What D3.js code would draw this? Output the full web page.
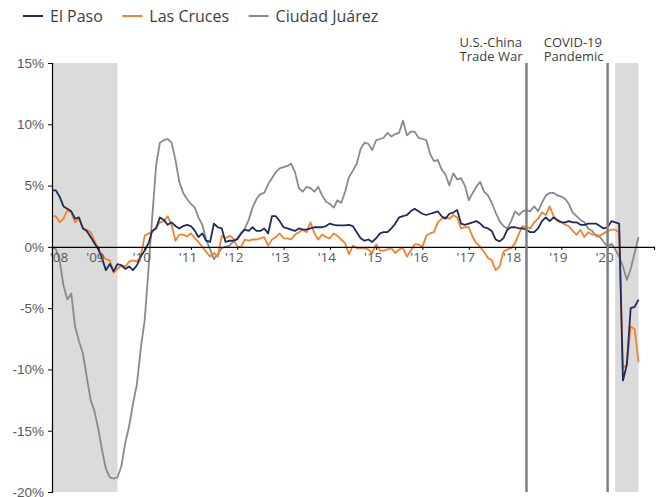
<!DOCTYPE html>
<html>
<head>
<meta charset="utf-8">
<script src="https://cdn.jsdelivr.net/npm/d3@7"></script>
<style>
    body { margin: 0; background: #fff; }
    svg { font-family: 'Open Sans', sans-serif; display: block; }
</style>
</head>
<body>
<div id="chart"></div>
<script>
// Monthly y/y change in %, Jan 2008 - Sep 2020 (one row per year)
const elPaso = [
    4.6, 4.6, 4.1, 3.3, 3.1, 2.9, 2.3, 2.4, 1.5, 1.3, 0.8, 0.3,
    -0.2, -1.0, -1.9, -1.4, -2.0, -1.4, -1.5, -1.8, -1.6, -1.9, -1.5, -0.8,
    -0.3, 0.3, 1.3, 1.5, 2.4, 2.2, 1.8, 2.0, 1.7, 1.5, 1.7, 1.8,
    1.7, 1.3, 0.8, 1.1, 0.5, 0.4, 1.9, 1.6, 1.5, 0.4, 0.5, 0.5,
    0.6, 1.1, 1.4, 1.3, 1.6, 1.3, 1.3, 1.5, 1.1, 2.5, 2.5, 2.1,
    1.6, 1.5, 1.4, 1.3, 1.5, 1.4, 1.4, 1.5, 1.6, 1.6, 1.6, 1.7,
    1.9, 1.8, 1.75, 1.75, 1.75, 1.8, 1.7, 1.2, 0.7, 0.5, 0.6, 0.4,
    0.7, 1.1, 1.2, 1.2, 1.5, 1.9, 2.4, 2.5, 2.6, 2.9, 3.1, 2.9,
    2.7, 2.6, 2.7, 2.8, 2.9, 2.5, 2.3, 2.7, 2.8, 3.0, 1.9, 1.8,
    1.9, 2.0, 2.1, 1.9, 1.6, 1.5, 1.3, 0.6, 0.45, 0.7, 1.4, 1.6,
    1.6, 1.5, 1.5, 1.4, 1.2, 1.2, 1.5, 2.1, 2.4, 2.1, 2.4, 2.2,
    2.0, 2.0, 2.1, 2.0, 2.0, 1.8, 1.8, 1.9, 1.9, 1.9, 1.7, 1.5,
    1.6, 2.1, 2.0, 1.9, -10.9, -9.6, -5.0, -4.9, -4.3
]
const lasCruces = [
    2.5, 2.5, 2.0, 2.3, 3.0, 2.8, 2.0, 2.3, 1.5, 1.4, 1.2, 0.5,
    -0.2, -0.7, -1.0, -1.1, -2.1, -1.8, -1.5, -1.6, -1.2, -1.1, -1.2, -0.8,
    0.9, 1.1, 1.2, 1.6, 2.0, 2.1, 2.5, 1.8, 0.5, 1.0, 1.0, 0.85,
    1.1, 0.7, 0.4, 0.0, -0.4, -0.8, -0.5, -0.8, 0.9, 0.7, 0.9, 0.7,
    0.0, 0.0, 0.6, 0.5, 0.6, 0.6, 0.7, 0.8, 0.1, 0.6, 0.8, 1.1,
    0.7, 0.7, 0.6, 1.0, 1.2, 1.4, 1.2, 2.0, 1.1, 0.6, 1.0, 0.8,
    0.7, 1.1, 0.9, 0.6, 0.3, -0.6, 0.1, -0.1, -0.1, -0.1, -0.2, -0.5,
    0.2, -0.3, -0.3, -0.2, -0.1, -0.5, -0.2, -0.1, -0.8, -0.3, 0.2, 0.2,
    0.0, 0.9, 1.1, 1.2, 2.0, 2.3, 2.4, 2.3, 2.6, 2.4, 1.5, 1.6,
    1.6, 0.8, 0.3, 0.0, -0.4, -0.9, -1.1, -1.9, -1.6, -0.4, -0.2, -0.1,
    0.3, 1.1, 1.7, 1.6, 1.5, 2.0, 2.3, 2.8, 2.6, 3.3, 2.5, 2.1,
    2.0, 1.8, 1.7, 1.3, 1.0, 1.4, 0.8, 1.2, 1.0, 1.0, 0.9, 1.1,
    1.3, 1.4, 1.4, 1.2, -9.9, -9.6, -6.5, -6.7, -9.4
]
const ciudadJuarez = [
    0.0, -0.2, -1.1, -3.2, -4.3, -3.8, -6.5, -7.7, -8.7, -10.6, -12.5, -13.4,
    -14.9, -16.7, -18.1, -18.8, -18.9, -18.8, -17.9, -16.0, -14.6, -12.8, -11.2, -8.3,
    -6.0, -1.7, 2.3, 6.6, 8.5, 8.7, 8.8, 8.5, 7.1, 5.3, 4.4, 3.9,
    3.5, 3.2, 2.4, 1.8, 0.6, -0.2, -1.0, -0.6, -0.1, 0.0, 0.1, 0.4,
    0.7, 1.1, 1.5, 2.2, 3.2, 3.9, 4.3, 4.4, 5.1, 5.6, 6.1, 6.4,
    6.5, 6.6, 6.8, 6.1, 4.8, 4.5, 4.9, 4.8, 4.5, 4.9, 4.2, 3.7,
    3.5, 3.2, 3.8, 3.6, 4.5, 5.7, 6.2, 6.8, 8.0, 8.5, 8.4, 7.9,
    8.7, 8.8, 8.9, 9.3, 9.0, 9.2, 9.3, 10.3, 9.1, 9.4, 9.4, 8.9,
    8.8, 8.7, 7.6, 7.0, 7.1, 6.3, 5.9, 5.0, 6.0, 5.5, 5.6, 5.0,
    3.8, 4.4, 4.9, 5.3, 4.5, 4.2, 3.6, 2.8, 2.1, 1.7, 1.5, 2.1,
    2.9, 2.6, 2.9, 3.0, 2.9, 3.3, 2.9, 3.6, 4.2, 4.4, 4.4, 4.2,
    4.1, 3.9, 3.5, 2.8, 2.5, 2.2, 2.0, 1.5, 1.3, 0.9, 0.8, 0.4,
    0.0, 0.25, -0.2, -0.8, -1.6, -2.7, -1.8, -0.5, 0.8
]

const seriesNames = ['El Paso', 'Las Cruces', 'Ciudad Juárez']
const seriesColors = ['#1c2a5e', '#f5822a', '#8a8a8a']
const yearLabels = ["'08", "'09", "'10", "'11", "'12", "'13", "'14", "'15", "'16", "'17", "'18", "'19", "'20"]
const yTicks = [15, 10, 5, 0, -5, -10, -15, -20]
// recession shading, [start, end] as year-month
const recessions = [[2008, 0, 2009, 5.5], [2020, 2, 2020, 8]]
const events = [
    { y: 2018, m: 3, lines: ['U.S.-China', 'Trade War'] },
    { y: 2020, m: 0, lines: ['COVID-19', 'Pandemic'] }
]

const width = 665, height = 497
const margin = { top: 63, right: 11, bottom: 5, left: 52 }

const svg = d3.select('#chart').append('svg')
    .attr('width', width)
    .attr('height', height)

const x = d3.scaleTime()
    .domain([new Date(2008, 0, 1), new Date(2021, 0, 1)])
    .range([margin.left, width - margin.right])

const y = d3.scaleLinear()
    .domain([-20, 15])
    .range([height - margin.bottom, margin.top])

// shaded recessions
svg.selectAll('rect.rec').data(recessions).enter().append('rect')
    .attr('class', 'rec')
    .attr('x', d => x(new Date(d[0], d[1], 1)))
    .attr('width', d => x(new Date(d[2], d[3], 1)) - x(new Date(d[0], d[1], 1)))
    .attr('y', y(15))
    .attr('height', y(-20) - y(15))
    .attr('fill', '#dcdbdb')

// y axis
const yAxis = d3.axisLeft(y)
    .tickValues(yTicks)
    .tickSize(4)
    .tickFormat(d => d + '%')
const gy = svg.append('g')
    .attr('transform', 'translate(' + margin.left + ',0)')
    .call(yAxis)
gy.select('.domain').attr('stroke', '#000').attr('stroke-width', 1.2)
gy.selectAll('.tick line').attr('stroke', '#000')
gy.selectAll('.tick text')
    .attr('x', -8)
    .attr('fill', '#595959')
    .style('font-size', '13.5px')

// zero axis with year ticks
const years = yearLabels.map((l, i) => new Date(2008 + i, 0, 1))
const xAxis = d3.axisBottom(x)
    .tickValues(years.concat([new Date(2021, 0, 1)]))
    .tickSize(3)
    .tickFormat('')
const gx = svg.append('g')
    .attr('transform', 'translate(0,' + y(0) + ')')
    .call(xAxis)
gx.select('.domain').attr('stroke', '#000').attr('stroke-width', 1.2)
gx.selectAll('.tick line').attr('stroke', '#000')

svg.selectAll('text.xl').data(yearLabels).enter().append('text')
    .attr('class', 'xl')
    .attr('x', (d, i) => i == 0 ? x(years[i]) + 7 : x(years[i]) - 3)
    .attr('y', y(0) + 15)
    .attr('text-anchor', 'middle')
    .attr('fill', '#595959')
    .style('font-size', '13.5px')
    .text(d => d)

// series lines
const seriesData = [elPaso, lasCruces, ciudadJuarez]
const line = d3.line()
    .x((d, i) => x(new Date(2008, i, 1)))
    .y(d => y(d))

svg.selectAll('path.series').data(seriesData).enter().append('path')
    .attr('class', 'series')
    .attr('d', d => line(d))
    .attr('fill', 'none')
    .attr('stroke', (d, i) => seriesColors[i])
    .attr('stroke-width', 1.8)
    .attr('stroke-linejoin', 'round')
    // draw gray first so the other two sit on top
    .lower()
svg.selectAll('rect.rec').lower()

// event lines and labels
events.forEach(ev => {
    let ex = x(new Date(ev.y, ev.m, 1))
    svg.append('line')
        .attr('x1', ex).attr('x2', ex)
        .attr('y1', y(15)).attr('y2', y(-20))
        .attr('stroke', '#7f7f7f')
        .attr('stroke-width', 2.5)
    let t = svg.append('text')
        .attr('fill', '#404040')
        .style('font-size', '13px')
    ev.lines.forEach((l, i) => {
        t.append('tspan').attr('y', 47 + i * 13.5).text(l)
    })
    let w = d3.max(t.selectAll('tspan').nodes(), n => n.getComputedTextLength())
    t.selectAll('tspan').attr('x', ex - w - 4)
})

// legend
let lx = 23
const legend = svg.append('g')
seriesNames.forEach((name, i) => {
    legend.append('line')
        .attr('x1', lx).attr('x2', lx + 20)
        .attr('y1', 16).attr('y2', 16)
        .attr('stroke', seriesColors[i])
        .attr('stroke-width', 2)
    let t = legend.append('text')
        .attr('x', lx + 27)
        .attr('y', 21.5)
        .attr('fill', '#404040')
        .style('font-size', '16px')
        .text(name)
    lx += 27 + t.node().getComputedTextLength() + 19.5
})
</script>
</body>
</html>
